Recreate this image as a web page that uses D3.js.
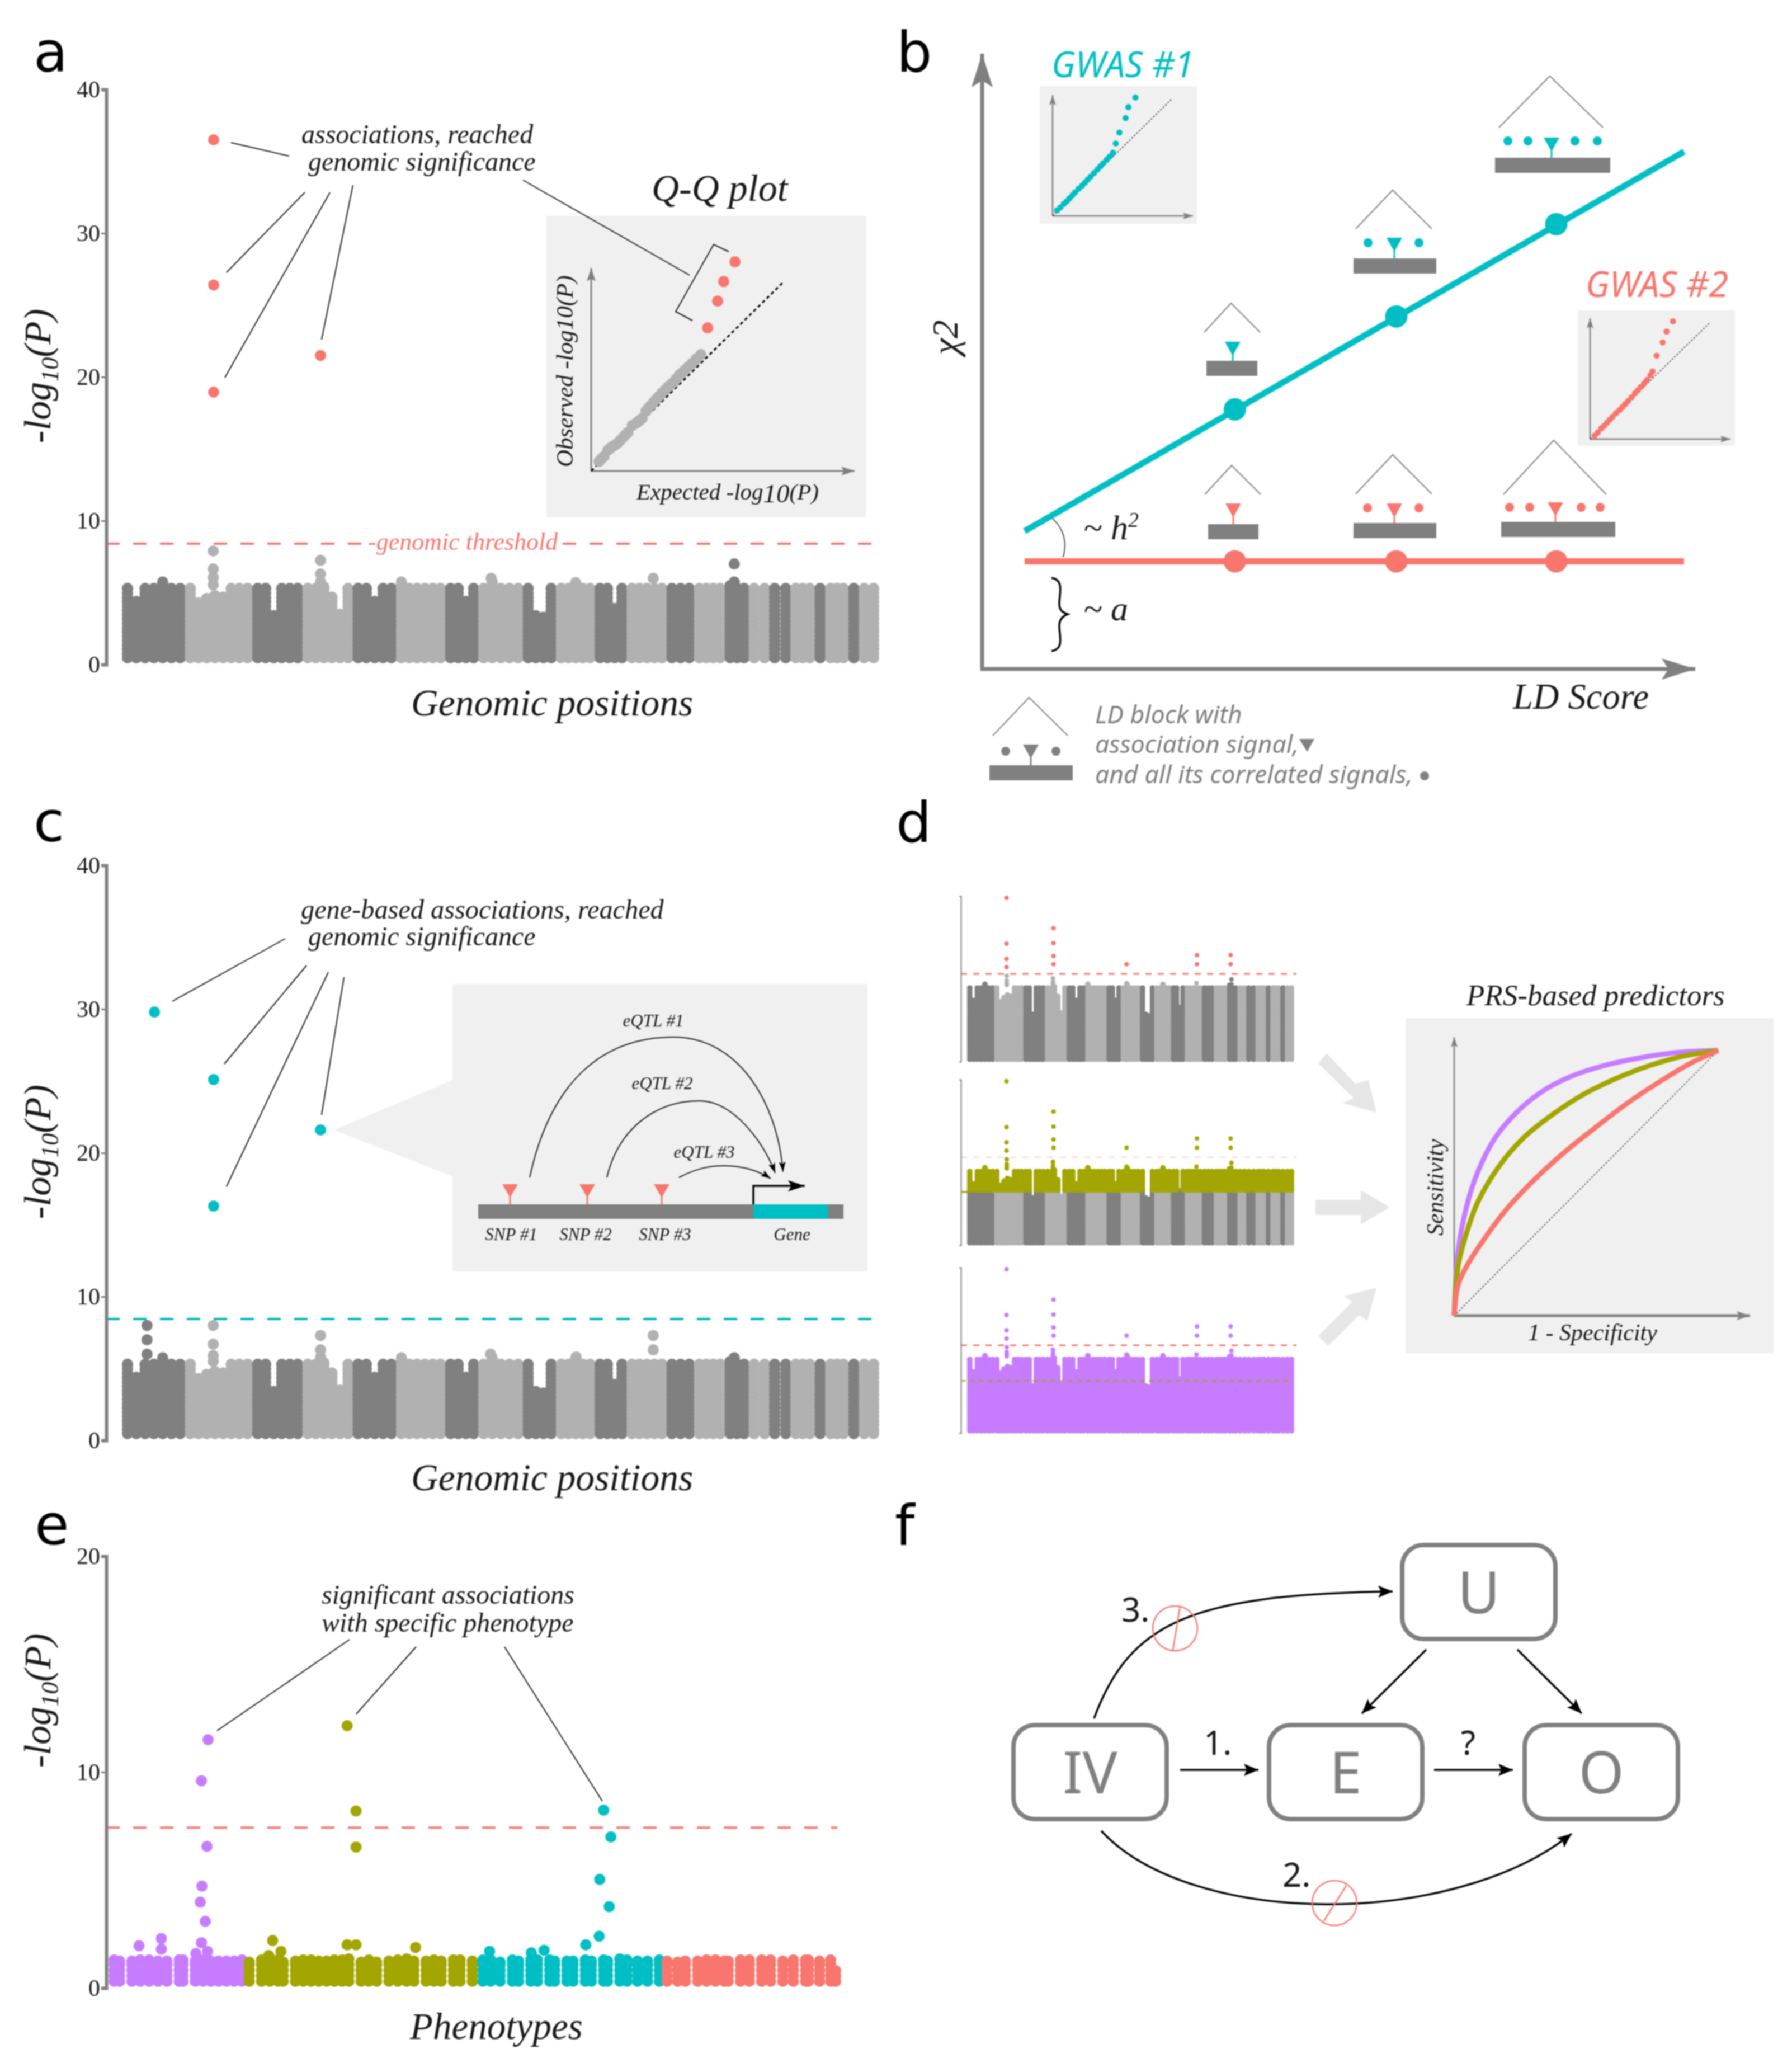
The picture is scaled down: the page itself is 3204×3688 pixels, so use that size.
<!DOCTYPE html>
<html>
<head>
<meta charset="utf-8">
<script src="https://cdn.jsdelivr.net/npm/d3@7"></script>
<style>
  html, body { margin: 0; background: #fff; }
  svg { display: block; filter: blur(1.1px); }
  text { font-family: "Liberation Serif", serif; fill: #1a1a1a; }
  .sans { font-family: "Noto Sans", sans-serif; }
</style>
</head>
<body>
<div class="figure"></div>
<script>
//Chromosome widths, as drawn on the genomic axis
var chrLengths = [110, 118, 88, 88, 76, 86, 58, 78, 58, 68, 56, 70, 48, 54, 42, 36, 37, 42, 19, 40, 19, 34];

//Top of the dot mass for each chromosome, one value per column
var chrTops = [
    [5.3, 4.4, 5.3, 5.3, 5.75, 5.3, 5.3],
    [5.3, 4.3, 4.6, 4.8, 4.7, 5.3, 5.3, 5.3],
    [5.3, 5.3, 3.4, 5.3, 5.3, 5.3],
    [5.3, 5.3, 5.4, 4.7, 3.5, 5.3],
    [5.3, 5.3, 4.4, 5.3, 5.3],
    [5.75, 5.3, 5.3, 5.3, 5.3, 5.3],
    [5.3, 5.3, 4.4, 5.3],
    [5.3, 5.75, 5.3, 5.3, 5.3],
    [5.3, 3.4, 3.3, 5.3],
    [5.3, 5.3, 5.7, 5.3, 5.3],
    [5.3, 5.3, 3.9, 5.3],
    [5.3, 5.3, 5.3, 5.3, 5.3],
    [5.3, 5.3, 5.3],
    [5.3, 5.3, 5.3, 5.3],
    [5.5, 5.3, 5.3],
    [5.3, 5.3],
    [5.3, 5.3],
    [5.3, 5.3, 5.3],
    [5.3],
    [5.3, 5.3, 5.3],
    [5.3],
    [5.3, 5.3]
];

//Panel a: points above the mass and the four hits past the threshold
var hitsA = [[159, 7.9], [159, 6.65], [159, 6.05], [159, 5.55], [347, 7.25], [347, 6.3], [347, 5.76], [646, 6.0], [930, 6.0], [1072, 7.0], [1072, 5.75]];
var sigA = [[159.7, 36.5], [159.7, 26.4], [159.7, 18.95], [347, 21.5]];
var thresholdA = 8.4;

//Q-Q plot of panel a, expected and observed on a 0-10 inset scale
var qqExpected = [0.3, 0.39, 0.48, 0.63, 0.7, 0.78, 0.89, 1.0, 1.1, 1.21, 1.3, 1.39, 1.56, 1.71, 1.82, 1.93, 2.08, 2.17, 2.26, 2.37, 2.47, 2.58, 2.69, 2.8, 2.91, 3.02, 3.12, 3.23, 3.34, 3.45, 3.55, 3.68, 3.82, 3.99, 4.16];
var qqObserved = [0.47, 0.6, 0.71, 1.02, 1.1, 1.18, 1.27, 1.37, 1.5, 1.65, 1.78, 1.89, 2.24, 2.36, 2.47, 2.59, 2.95, 3.1, 3.23, 3.38, 3.53, 3.68, 3.84, 3.98, 4.13, 4.25, 4.36, 4.53, 4.71, 4.83, 4.95, 5.12, 5.29, 5.52, 5.73];
var qqSigExpected = [4.42, 4.8, 5.03, 5.46];
var qqSigObserved = [7.05, 8.37, 9.33, 10.3];

//Panel b: LD score regression
var ldLine = [6.05, 100];
var ldBlocks = [36, 59, 81.8];
var chiGwas1Line = [22.4, 84.1];
var chiGwas1 = [42.2, 57.3, 72.3];
var chiGwas2Line = [17.5, 17.5];
var chiGwas2 = [17.5, 17.5, 17.5];

//Small Q-Q insets of panel b
var qq1Expected = [0.32, 0.55, 0.8, 1.0, 1.2, 1.4, 1.6, 1.85, 2.1, 2.3, 2.5, 2.7, 2.95, 3.2, 3.4, 3.6, 3.85, 4.05, 4.3, 4.5, 4.76, 5.2, 5.4, 5.9];
var qq1Observed = [0.46, 0.7, 1.0, 1.2, 1.45, 1.7, 1.95, 2.25, 2.5, 2.75, 3.0, 3.25, 3.55, 3.85, 4.1, 4.35, 4.65, 4.9, 5.23, 6.0, 6.9, 8.1, 9.0, 9.8];
var qq2Expected = [0.32, 0.55, 0.8, 1.0, 1.2, 1.4, 1.6, 1.85, 2.1, 2.3, 2.5, 2.7, 2.95, 3.2, 3.4, 3.6, 3.85, 4.05, 4.3, 4.45, 4.74, 5.17, 5.45, 5.9];
var qq2Observed = [0.28, 0.55, 0.9, 1.1, 1.35, 1.6, 1.85, 2.15, 2.4, 2.65, 2.9, 3.15, 3.45, 3.8, 4.05, 4.3, 4.6, 4.9, 5.3, 5.6, 6.9, 8.0, 8.9, 9.75];

//Panel c
var hitsC = [[43, 8.0], [43, 7.0], [43, 6.0], [159, 8.0], [159, 6.7], [159, 5.9], [159, 5.5], [347, 7.3], [347, 6.3], [347, 5.8], [645, 6.0], [795, 5.8], [930, 7.3], [930, 6.3], [1072, 5.75]];
var sigC = [[56, 29.8], [159.7, 25.1], [159.7, 16.3], [347, 21.6]];
var thresholdC = 8.44;

//Panel d: polygenic scores, shared hits of the three small plots
var sigD = [[158, 39.3], [158, 20.7], [158, 14.5], [158, 11.1], [349, 27.0], [349, 20.9], [349, 15.7], [349, 12.3], [646, 12.3], [932, 16.1], [932, 12.3], [1069, 16.1], [1069, 12.3]];
var rocPurple = [[0, 0], [0.015, 0.245], [0.048, 0.416], [0.09, 0.544], [0.156, 0.672], [0.242, 0.772], [0.329, 0.843], [0.437, 0.9], [0.567, 0.943], [0.697, 0.971], [0.848, 0.993], [1, 1]];
var rocOlive = [[0, 0], [0.015, 0.188], [0.048, 0.316], [0.09, 0.43], [0.177, 0.573], [0.264, 0.672], [0.372, 0.758], [0.48, 0.829], [0.61, 0.893], [0.74, 0.943], [0.87, 0.979], [1, 1]];
var rocSalmon = [[0, 0], [0.015, 0.117], [0.048, 0.188], [0.113, 0.288], [0.199, 0.402], [0.307, 0.516], [0.416, 0.615], [0.524, 0.701], [0.654, 0.8], [0.784, 0.886], [0.892, 0.95], [1, 1]];

//Panel e: phenotype columns [position, top] and the points above them
var phenoPurple = [[15, 1.3], [25, 1.25], [47, 1.25], [62, 1.3], [78, 1.3], [94, 1.25], [110, 1.25], [132, 1.3], [139, 1.3], [161, 1.25], [175, 1.3], [189, 1.25], [203, 1.25], [217, 1.25], [231, 1.25], [245, 1.3]];
var phenoOlive = [[258, 1.2], [280, 1.3], [295, 1.4], [310, 1.3], [319, 1.2], [341, 1.25], [355, 1.3], [369, 1.3], [383, 1.25], [397, 1.25], [411, 1.3], [425, 1.3], [437, 1.35], [459, 1.2], [473, 1.3], [487, 1.2], [509, 1.25], [525, 1.3], [541, 1.35], [554, 1.25], [576, 1.25], [590, 1.3], [603, 1.25], [625, 1.3], [637, 1.3], [659, 1.25]];
var phenoTeal = [[678, 1.3], [692, 1.3], [709, 1.2], [731, 1.3], [742, 1.25], [764, 1.3], [776, 1.3], [798, 1.3], [807, 1.25], [829, 1.25], [840, 1.25], [862, 1.3], [873, 1.25], [895, 1.3], [902, 1.25], [924, 1.35], [937, 1.3], [956, 1.25], [974, 1.25], [995, 1.3]];
var phenoSalmon = [[1009, 1.25], [1028, 1.2], [1042, 1.25], [1064, 1.25], [1080, 1.3], [1096, 1.3], [1112, 1.25], [1119, 1.25], [1141, 1.3], [1157, 1.3], [1179, 1.3], [1195, 1.3], [1217, 1.25], [1236, 1.3], [1258, 1.3], [1263, 1.3], [1283, 1.25], [1303, 1.3], [1312, 0.8]];
var peaksPurple = [[184, 11.5], [172, 9.6], [182, 6.56], [173, 4.72], [170, 3.98], [179, 3.09], [172, 2.1], [60, 1.96], [100, 2.29], [100, 1.8], [183, 1.7], [162, 1.6]];
var peaksOlive = [[434, 12.15], [450, 8.2], [450, 6.53], [300, 2.2], [434, 2.0], [450, 2.0], [557, 1.88], [315, 1.7], [293, 1.5]];
var peaksTeal = [[895, 8.24], [908, 7.0], [888, 5.03], [905, 3.77], [887, 2.4], [863, 2.0], [788, 1.75], [765, 1.63], [690, 1.7]];
var thresholdE = 7.43;

//Colours
var dark = "#808080";
var light = "#b1b1b1";
var salmon = "#F8766D";
var teal = "#00BFC4";
var olive = "#A3A500";
var purple = "#C77CFF";
var inset = "#f0f0f0";

//Width and height
var w = 3204;
var h = 3688;

//Create SVG element
var svg = d3.select(".figure")
    .append("svg")
    .attr("width", w)
    .attr("height", h);

var defs = svg.append("defs");

//Stealth arrow head, tip on the end of the line
function marker(id, color, len, half) {
    defs.append("marker")
        .attr("id", id)
        .attr("markerUnits", "userSpaceOnUse")
        .attr("markerWidth", len + 2)
        .attr("markerHeight", half * 2 + 2)
        .attr("refX", len)
        .attr("refY", half + 1)
        .attr("orient", "auto")
        .append("path")
        .attr("d", "M0,1 L" + len + "," + (half + 1) + " L0," + (half * 2 + 1) + " L" + (len * 0.2) + "," + (half + 1) + " Z")
        .attr("fill", color);
}
marker("bigGray", dark, 60, 19);
marker("midGray", dark, 24, 8);
marker("smallGray", dark, 18, 6);
marker("black", "#000", 26, 11);
marker("thinBlack", "#000", 18, 6);
marker("geneBlack", "#000", 30, 10);

function label(x, y, str, size, opts) {
    opts = opts || {};
    var t = svg.append("text")
        .attr("x", x)
        .attr("y", y)
        .attr("font-size", size)
        .attr("font-style", opts.italic === false ? "normal" : "italic")
        .attr("text-anchor", opts.anchor || "start")
        .text(str);
    if (opts.sans) t.attr("class", "sans");
    if (opts.fill) t.style("fill", opts.fill);
    if (opts.rotate) t.attr("transform", "rotate(-90 " + x + " " + y + ")");
    return t;
}

function panelLetter(x, y, str) {
    svg.append("text")
        .attr("x", x)
        .attr("y", y)
        .attr("font-size", 100)
        .style("font-family", "'DejaVu Sans', sans-serif")
        .style("fill", "#000")
        .text(str);
}

function line(x1, y1, x2, y2, color, width, mark, dash) {
    var l = svg.append("line")
        .attr("x1", x1).attr("y1", y1)
        .attr("x2", x2).attr("y2", y2)
        .attr("stroke", color)
        .attr("stroke-width", width);
    if (mark) l.attr("marker-end", "url(#" + mark + ")");
    if (dash) l.attr("stroke-dasharray", dash);
    return l;
}

function curve(d, color, width, mark) {
    var p = svg.append("path")
        .attr("d", d)
        .attr("fill", "none")
        .attr("stroke", color)
        .attr("stroke-width", width);
    if (mark) p.attr("marker-end", "url(#" + mark + ")");
    return p;
}

function box(x, y, bw, bh, fill) {
    return svg.append("rect")
        .attr("x", x).attr("y", y)
        .attr("width", bw).attr("height", bh)
        .attr("fill", fill);
}

function dots(data, xs, ys, color, r) {
    return svg.append("g")
        .selectAll("circle")
        .data(data)
        .enter()
        .append("circle")
        .attr("cx", d => xs(d[0]))
        .attr("cy", d => ys(d[1]))
        .attr("r", r)
        .attr("fill", typeof color === "function" ? d => color(d[0]) : color);
}

function zip(a, b) {
    return a.map((d, i) => [d, b[i]]);
}

//Chromosome start positions
var chrStarts = [];
chrLengths.reduce((s, d, i) => { chrStarts[i] = s; return s + d; }, 0);
var genome = d3.sum(chrLengths);

function chrIndex(pos) {
    return d3.bisectRight(chrStarts, pos) - 1;
}
function chrColor(pos) {
    return chrIndex(pos) % 2 === 0 ? dark : light;
}

//Column positions inside each chromosome
var chrColumns = [];
chrTops.forEach((tops, i) => {
    var inner = 8.8;
    tops.forEach((top, j) => {
        var pos = tops.length === 1 ? chrStarts[i] + chrLengths[i] / 2 :
            chrStarts[i] + inner + j * (chrLengths[i] - 2 * inner) / (tops.length - 1);
        chrColumns.push([pos, top]);
    });
});

//Expand columns into stacked dots
function massPoints(first, step, low, high) {
    var out = [];
    chrColumns.forEach(c => {
        var top = high ? Math.min(c[1], high) : c[1];
        if (low && c[1] < low) return;
        d3.range(low || first, top, step).concat([top]).forEach(v => out.push([c[0], v]));
    });
    return out;
}

//Panels a and c: the big Manhattan plots
function manhattan(y0, yTop, hits, threshold, thresholdColor, sig, sigColor) {
    var xScale = d3.scaleLinear().domain([0, genome]).range([219, 1571]);
    var yScale = d3.scaleLinear().domain([0, 40]).range([y0, yTop]);

    dots(massPoints(0.47, 0.3), xScale, yScale, chrColor, 10);
    dots(hits, xScale, yScale, chrColor, 10);

    line(190, yScale(threshold), 1565, yScale(threshold), thresholdColor, 4, null, "24 24");

    var axis = d3.axisLeft(yScale).tickValues([0, 10, 20, 30, 40]).tickSizeOuter(0).tickSize(9).tickPadding(2);
    var g = svg.append("g")
        .attr("transform", "translate(190, 0)")
        .call(axis);
    styleAxis(g);

    dots(sig, xScale, yScale, sigColor, 10);
    return yScale;
}

function styleAxis(g) {
    g.select(".domain").attr("stroke", dark).attr("stroke-width", 6);
    g.selectAll(".tick line").attr("stroke", dark).attr("stroke-width", 3);
    g.selectAll(".tick text").attr("font-size", 42).style("font-family", "'Liberation Serif', serif").style("fill", "#1a1a1a");
}

function logLabel(x, y) {
    var t = svg.append("text")
        .attr("text-anchor", "middle")
        .attr("font-style", "italic")
        .attr("font-size", 68)
        .attr("transform", "translate(" + x + "," + y + ") rotate(-90)");
    t.append("tspan").text("-log");
    t.append("tspan").attr("font-size", 44).attr("dy", 14).text("10");
    t.append("tspan").attr("dy", -14).text("(P)");
}

/* ---------- panel a ---------- */
panelLetter(60, 128, "a");
var yA = manhattan(1188, 160, hitsA, thresholdA, salmon, sigA, salmon);
box(666, yA(thresholdA) - 30, 338, 60, "#fff");
label(658, 983, "-genomic threshold", 44, { fill: salmon });
logLabel(90, 672);
label(735, 1279, "Genomic positions", 67.5);
label(539, 256, "associations, reached", 48);
label(551, 305, "genomic significance", 48);
line(413, 255, 517, 279, "#1a1a1a", 2);
line(545, 344, 405, 487, "#1a1a1a", 2);
line(590, 344, 402, 675, "#1a1a1a", 2);
line(631, 331, 575, 607, "#1a1a1a", 2);

//Q-Q inset
label(1165, 359, "Q-Q plot", 68);
box(977, 386, 571, 539, inset);
line(935, 322, 1233, 492, "#1a1a1a", 2);
var qqX = d3.scaleLinear().domain([0, 10]).range([1057, 1528]);
var qqY = d3.scaleLinear().domain([0, 10]).range([842, 479]);
line(qqX(0), qqY(0), qqX(0), qqY(10), dark, 3, "midGray");
line(qqX(0), qqY(0), qqX(10), qqY(0), dark, 3, "midGray");
line(qqX(0), qqY(0), qqX(7.3), qqY(9.31), "#000", 3, null, "6 5");
dots(zip(qqExpected, qqObserved), qqX, qqY, "#b1b1b1", 10);
dots(zip(qqSigExpected, qqSigObserved), qqX, qqY, salmon, 10);
curve("M1303,450 L1276,437 L1208,557 L1238,573", "#1a1a1a", 2);
label(1024, 835, "Observed -log10(P)", 43, { rotate: true });
var expected = label(1138, 893, "Expected -log", 41);
expected.append("tspan").attr("dy", 5).attr("font-size", 47).text("10");
expected.append("tspan").attr("dy", -5).text("(P)");

/* ---------- panel b ---------- */
panelLetter(1603, 128, "b");
var ldX = d3.scaleLinear().domain([0, 100]).range([1756, 3011]);
var chiY = d3.scaleLinear().domain([0, 100]).range([1196, 96]);

//Schematic LD blocks, with signal dots around the triangle
var blockShapes = [
    { c: teal, cx: 2204, apex: 542, leg: 594, half: 51, tri: 611, bar: 645, l: 2157, r: 2248, dx: [] },
    { c: teal, cx: 2493, apex: 340, leg: 409, half: 69, tri: 425, bar: 462, l: 2420, r: 2568, dx: [-47, 44], dy: 434 },
    { c: teal, cx: 2774, apex: 136, leg: 228, half: 94, tri: 246, bar: 282, l: 2673, r: 2879, dx: [-78, -42, 42, 82], dy: 252 },
    { c: salmon, cx: 2205, apex: 832, leg: 884, half: 51, tri: 900, bar: 937, l: 2160, r: 2250, dx: [] },
    { c: salmon, cx: 2493, apex: 813, leg: 883, half: 69, tri: 900, bar: 935, l: 2420, r: 2568, dx: [-48, 44], dy: 908 },
    { c: salmon, cx: 2781, apex: 787, leg: 884, half: 93, tri: 898, bar: 933, l: 2684, r: 2888, dx: [-82, -46, 46, 80], dy: 907 },
    { c: dark, cx: 1843, apex: 1247, leg: 1315, half: 68, tri: 1331, bar: 1368, l: 1769, r: 1918, dx: [-45, 45], dy: 1343 }
];
blockShapes.forEach(b => {
    curve("M" + (b.cx - b.half) + "," + b.leg + " L" + (b.cx - 3) + "," + b.apex + " L" + (b.cx + b.half - 2) + "," + b.leg, dark, 2);
    box(b.l, b.bar, b.r - b.l, 27, dark);
    line(b.cx, b.tri + 10, b.cx, b.bar, b.c, 3);
    svg.append("path")
        .attr("d", "M" + (b.cx - 14) + "," + b.tri + " L" + (b.cx + 14) + "," + b.tri + " L" + b.cx + "," + (b.tri + 25) + " Z")
        .attr("fill", b.c);
    b.dx.forEach(d => {
        svg.append("circle").attr("cx", b.cx + d).attr("cy", b.dy).attr("r", 8).attr("fill", b.c);
    });
});

//Regression lines
var ldPath = d3.line().x(d => ldX(d[0])).y(d => chiY(d[1]));
svg.append("path").attr("d", ldPath(zip(ldLine, chiGwas1Line))).attr("stroke", teal).attr("stroke-width", 11).attr("fill", "none");
svg.append("path").attr("d", ldPath(zip(ldLine, chiGwas2Line))).attr("stroke", salmon).attr("stroke-width", 11).attr("fill", "none");
dots(zip(ldBlocks, chiGwas1), ldX, chiY, teal, 20);
dots(zip(ldBlocks, chiGwas2), ldX, chiY, salmon, 20);

//Axes
line(ldX(0), chiY(0), ldX(0), chiY(100), dark, 7, "bigGray");
line(ldX(0) - 3, chiY(0), 3031, chiY(0), dark, 7, "bigGray");
label(1712, 634, "χ2", 66, { rotate: true });
label(2705, 1267, "LD Score", 64.5);
curve("M1882,927 Q1912,955 1901,996", "#1a1a1a", 1.5);
var hSquare = label(1937, 964, "~ h", 62);
hSquare.append("tspan").attr("dy", -22).attr("font-size", 38).text("2");
label(1937, 1109, "~ a", 62);
curve("M1880,1033 C1902,1036 1895,1060 1894,1075 C1893,1090 1898,1094 1909,1098 C1898,1102 1893,1110 1894,1122 C1895,1140 1902,1160 1880,1164", "#000", 3.5);

//Small Q-Q insets
label(1880, 138, "GWAS #1", 63, { sans: true, fill: teal });
box(1859, 154, 281, 246, inset);
var q1X = d3.scaleLinear().domain([0, 10]).range([1882, 2133]);
var q1Y = d3.scaleLinear().domain([0, 10]).range([386, 170]);
line(q1X(0), q1Y(0), q1X(0), q1Y(10), dark, 2.5, "smallGray");
line(q1X(0), q1Y(0), q1X(10), q1Y(0), dark, 2.5, "smallGray");
line(q1X(0), q1Y(0), 2095, 177, "#222", 1.5, null, "3 3");
dots(zip(qq1Expected, qq1Observed), q1X, q1Y, teal, 5.5);

label(2835, 531, "GWAS #2", 63, { sans: true, fill: salmon });
box(2821, 555, 281, 242, inset);
var q2X = d3.scaleLinear().domain([0, 10]).range([2843, 3094]);
var q2Y = d3.scaleLinear().domain([0, 10]).range([785, 569]);
line(q2X(0), q2Y(0), q2X(0), q2Y(10), dark, 2.5, "smallGray");
line(q2X(0), q2Y(0), q2X(10), q2Y(0), dark, 2.5, "smallGray");
line(q2X(0), q2Y(0), 3057, 577, "#222", 1.5, null, "3 3");
dots(zip(qq2Expected, qq2Observed), q2X, q2Y, salmon, 5.5);

//Legend of the block glyph, one text with three lines
var legendText = label(1958, 1293, "", 44.5, { sans: true, fill: dark });
[["LD block with", 0], ["association signal,", 53], ["and all its correlated signals,", 54]].forEach(d => {
    legendText.append("tspan").attr("x", 1958).attr("dy", d[1]).text(d[0]);
});
svg.append("path").attr("d", "M2323,1321 L2350,1321 L2337,1344 Z").attr("fill", dark);
svg.append("circle").attr("cx", 2547).attr("cy", 1387).attr("r", 8).attr("fill", dark);

/* ---------- panel c ---------- */
panelLetter(60, 1504, "c");
box(809, 1759, 742, 514, inset);
svg.append("path").attr("d", "M597,2020 L809,1931 L809,2103 Z").attr("fill", inset);
manhattan(2575, 1547, hitsC, thresholdC, teal, sigC, teal);
logLabel(90, 2059);
label(735, 2664, "Genomic positions", 67.5);
label(538, 1642, "gene-based associations, reached", 48.3);
label(551, 1690, "genomic significance", 48);
line(510, 1678, 308, 1790, "#1a1a1a", 2);
line(548, 1726, 401, 1902, "#1a1a1a", 2);
line(587, 1738, 405, 2121, "#1a1a1a", 2);
line(615, 1747, 575, 1993, "#1a1a1a", 2);

//eQTL inset
curve("M947,2105 C985,1930 1080,1854 1204,1854 C1320,1854 1390,1970 1400,2095", "#1a1a1a", 2, "thinBlack");
curve("M1085,2105 C1105,2020 1170,1968 1250,1968 C1310,1968 1365,2040 1386,2097", "#1a1a1a", 2, "thinBlack");
curve("M1214,2105 C1250,2086 1275,2084 1296,2084 C1330,2084 1360,2095 1378,2107", "#1a1a1a", 2, "thinBlack");
box(855, 2153, 653, 26, dark);
box(1347, 2153, 133, 26, teal);
curve("M1347,2153 L1347,2120 L1439,2120", "#000", 3.5, "geneBlack");
var snpX = [912, 1050, 1183];
snpX.forEach((x, i) => {
    line(x, 2128, x, 2153, salmon, 3);
    svg.append("path").attr("d", "M" + (x - 14) + ",2117 L" + (x + 14) + ",2117 L" + x + ",2141 Z").attr("fill", salmon);
});
label(914, 2217, "SNP #1", 31, { anchor: "middle" });
label(1047, 2217, "SNP #2", 31, { anchor: "middle" });
label(1189, 2217, "SNP #3", 31, { anchor: "middle" });
label(1416, 2217, "Gene", 31, { anchor: "middle" });
label(1168, 1835, "eQTL #1", 31, { anchor: "middle" });
label(1184, 1947, "eQTL #2", 31, { anchor: "middle" });
label(1259, 2070, "eQTL #3", 31, { anchor: "middle" });

/* ---------- panel d ---------- */
panelLetter(1602, 1505, "d");
function miniManhattan(y0, mode) {
    var xScale = d3.scaleLinear().domain([0, genome]).range([1730, 2313]);
    var yScale = d3.scaleLinear().domain([0, 5.5, thresholdA, 40]).range([y0, y0 - 137, y0 - 157, y0 - 296]);
    var hitColor = mode === "gray" ? salmon : mode === "olive" ? olive : purple;
    var lowColor = mode === "gray" ? chrColor : hitColor;

    line(1718, yScale(thresholdA), 2318, yScale(thresholdA), mode === "olive" ? "#ffdcd9" : salmon, 3, null, "11 11");

    if (mode === "purple") {
        dots(massPoints(0.17, 0.17), xScale, yScale, purple, 4.8);
    } else {
        dots(massPoints(0.17, 0.17, null, mode === "olive" ? 3.95 : null), xScale, yScale, chrColor, 4.8);
        if (mode === "olive") dots(massPoints(0.17, 0.17, 3.95), xScale, yScale, olive, 4.8);
    }
    dots(hitsA, xScale, yScale, lowColor, 4);
    dots(sigD, xScale, yScale, hitColor, 4);

    var axis = d3.axisLeft(yScale).tickValues([0, 40]).tickSize(3).tickFormat("");
    var g = svg.append("g").attr("transform", "translate(1718, 0)").call(axis);
    g.select(".domain").attr("stroke", dark).attr("stroke-width", 2);
    g.selectAll(".tick line").attr("stroke", dark);

    if (mode === "olive") line(1718, yScale(3.82), 1730, yScale(3.82), olive, 3);
    if (mode === "purple") line(1718, yScale(3.75), 2305, yScale(3.75), olive, 3, null, "9 7").attr("opacity", 0.7);
}
miniManhattan(1898, "gray");
miniManhattan(2226, "olive");
miniManhattan(2562, "purple");

//Block arrows towards the predictors
var arrowColor = "#e6e6e6";
["2372,1883 2423,1937 2447,1931 2461,1989 2401,1972 2420,1963 2357,1901",
    "2352,2145 2433,2145 2433,2128 2485,2158 2433,2189 2433,2172 2352,2172",
    "2357,2388 2418,2327 2403,2317 2461,2302 2445,2361 2430,2351 2375,2406"].forEach(p => {
    svg.append("polygon").attr("points", p).attr("fill", arrowColor);
});

//ROC inset
label(2622, 1797, "PRS-based predictors", 53);
box(2513, 1820, 658, 599, inset);
var rocX = d3.scaleLinear().domain([0, 1]).range([2600, 3072]);
var rocY = d3.scaleLinear().domain([0, 1]).range([2352, 1878]);
line(2600, 2352, 2600, 1854, dark, 2.5, "smallGray");
line(2600, 2352, 3129, 2352, dark, 5, "midGray");
line(rocX(0), rocY(0), rocX(1), rocY(1), "#333", 1.5, null, "3 3");
var rocLine = d3.line().x(d => rocX(d[0])).y(d => rocY(d[1])).curve(d3.curveCatmullRom.alpha(0.5));
[[rocPurple, purple], [rocOlive, olive], [rocSalmon, salmon]].forEach(r => {
    svg.append("path").attr("d", rocLine(r[0])).attr("stroke", r[1]).attr("stroke-width", 9).attr("fill", "none");
});
label(2580, 2209, "Sensitivity", 42, { rotate: true });
label(2732, 2396, "1 - Specificity", 42);

/* ---------- panel e ---------- */
panelLetter(62, 2761, "e");
var xE = d3.scaleLinear().domain([0, 1320]).range([189, 1502]);
var yE = d3.scaleLinear().domain([0, 20]).range([3554, 2782]);

function phenoPoints(columns) {
    var out = [];
    columns.forEach(c => {
        d3.range(0.31, c[1], 0.26).concat([c[1]]).forEach(v => out.push([c[0], v]));
    });
    return out;
}
[[phenoPurple, peaksPurple, purple], [phenoOlive, peaksOlive, olive], [phenoTeal, peaksTeal, teal], [phenoSalmon, [], salmon]].forEach(p => {
    dots(phenoPoints(p[0]), xE, yE, p[2], 10);
    dots(p[1], xE, yE, p[2], 10);
});
line(190, yE(thresholdE), 1497, yE(thresholdE), salmon, 4, null, "24 24");
var axisE = d3.axisLeft(yE).tickValues([0, 10, 20]).tickSizeOuter(0).tickSize(9).tickPadding(2);
styleAxis(svg.append("g").attr("transform", "translate(190, 0)").call(axisE));
logLabel(90, 3040);
label(733, 3645, "Phenotypes", 67);
label(575, 2867, "significant associations", 48);
label(575, 2917, "with specific phenotype", 48);
line(625, 2931, 388, 3094, "#1a1a1a", 2);
line(744, 2944, 637, 3064, "#1a1a1a", 2);
line(902, 2944, 1077, 3220, "#1a1a1a", 2);

/* ---------- panel f ---------- */
panelLetter(1600, 2762, "f");
var nodes = [
    { name: "IV", x: 1812, y: 3084 },
    { name: "E", x: 2269, y: 3084 },
    { name: "O", x: 2726, y: 3084 },
    { name: "U", x: 2507, y: 2762 }
];
nodes.forEach(n => {
    svg.append("rect")
        .attr("x", n.x).attr("y", n.y)
        .attr("width", 274).attr("height", 168)
        .attr("rx", 38)
        .attr("fill", "#fff")
        .attr("stroke", dark)
        .attr("stroke-width", 8);
    label(n.x + 137, n.y + 122, n.name, 104, { sans: true, italic: false, fill: dark, anchor: "middle" });
});
line(2110, 3164, 2250, 3164, "#000", 3.5, "black");
line(2564, 3164, 2705, 3164, "#000", 3.5, "black");
line(2550, 2949, 2435, 3063, "#000", 3.5, "black");
line(2713, 2949, 2828, 3063, "#000", 3.5, "black");
curve("M1956,3072 C2020,2900 2130,2850 2490,2845", "#000", 3.5, "black");
curve("M1969,3273 C2130,3447 2600,3447 2810,3278", "#000", 3.5, "black");
label(2152, 3137, "1.", 60, { sans: true, italic: false });
label(2625, 3137, "?", 60, { sans: true, italic: false, anchor: "middle" });
label(2005, 2899, "3.", 60, { sans: true, italic: false });
label(2293, 3373, "2.", 60, { sans: true, italic: false });

//No-effect marks on the two curved paths
[[2101, 2911, 2110, 2871, 2097, 2950], [2386, 3402, 2407, 3371, 2367, 3434]].forEach(c => {
    svg.append("circle").attr("cx", c[0]).attr("cy", c[1]).attr("r", 40).attr("fill", "none").attr("stroke", salmon).attr("stroke-width", 2.5);
    line(c[2], c[3], c[4], c[5], salmon, 2.5);
});
</script>
</body>
</html>
